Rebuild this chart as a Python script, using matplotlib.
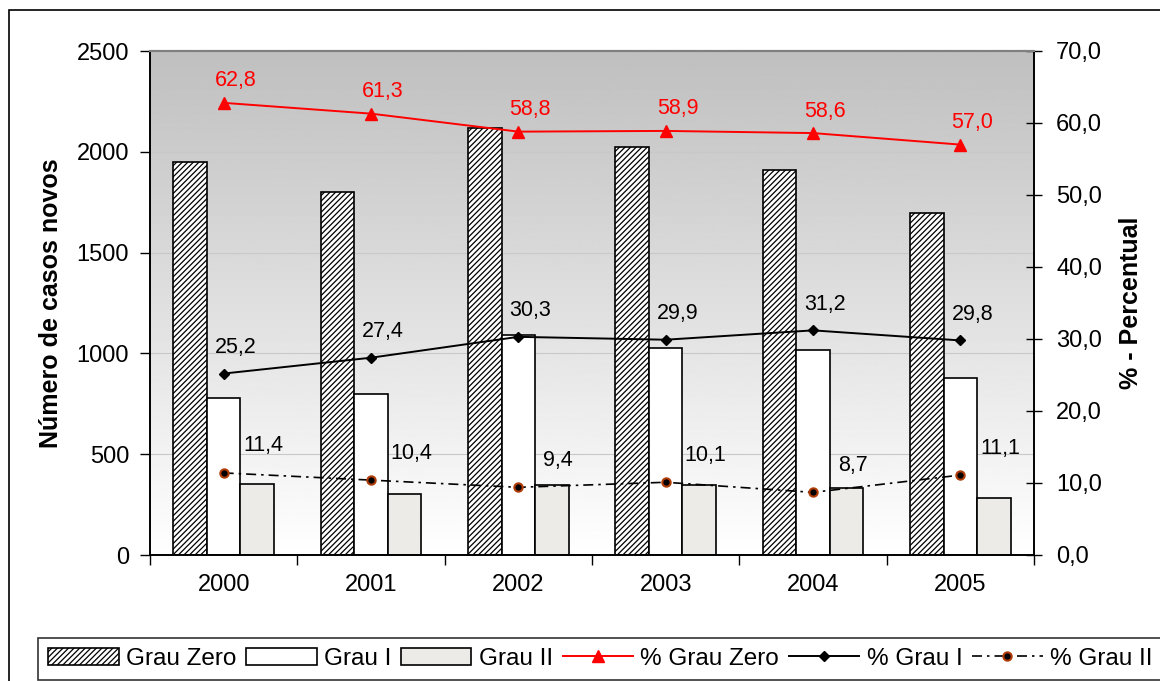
import matplotlib.pyplot as plt
import matplotlib.patches as mpatches
import numpy as np

plt.rcParams['font.family'] = ['Liberation Sans', 'DejaVu Sans']
plt.rcParams['hatch.linewidth'] = 0.9

anos = ['2000', '2001', '2002', '2003', '2004', '2005']
grau_zero = [1950, 1800, 2120, 2025, 1910, 1695]
grau_1 = [780, 800, 1090, 1025, 1015, 880]
grau_2 = [350, 305, 345, 345, 330, 285]
pct_zero = [62.8, 61.3, 58.8, 58.9, 58.6, 57.0]
pct_1 = [25.2, 27.4, 30.3, 29.9, 31.2, 29.8]
pct_2 = [11.4, 10.4, 9.4, 10.1, 8.7, 11.1]

def virgula(v):
    return f'{v:.1f}'.replace('.', ',')

fig = plt.figure(figsize=(11.6, 6.81), dpi=100)
ax = fig.add_axes([150 / 1160, 1 - 555 / 681, 884 / 1160, 504 / 681])
ax2 = ax.twinx()

# fundo com degrade cinza -> branco
grad = np.linspace(0.75, 1.0, 256).reshape(-1, 1)
ax.imshow(grad, cmap='gray', vmin=0, vmax=1, aspect='auto',
          extent=(0, 1, 0, 1), transform=ax.transAxes, zorder=0,
          origin='upper')

x = np.arange(len(anos))
w = 0.228
ax.bar(x - w, grau_zero, w, facecolor='white', edgecolor='black',
       hatch='//////', linewidth=1.2, zorder=2, label='Grau Zero')
ax.bar(x, grau_1, w, facecolor='white', edgecolor='black',
       linewidth=1.2, zorder=2, label='Grau I')
ax.bar(x + w, grau_2, w, facecolor='#ecebe7', edgecolor='black',
       linewidth=1.2, zorder=2, label='Grau II')

ax.set_xlim(-0.5, len(anos) - 0.5)
ax.set_ylim(0, 2500)
ax.set_yticks(range(0, 2501, 500))
ax.yaxis.grid(True, color='#c8c8c8', linewidth=0.8, zorder=1)
ax.set_axisbelow(True)
ax.set_xticks(np.arange(-0.5, len(anos), 1))
ax.set_xticklabels([])
ax.set_xticks(x, minor=True)
ax.set_xticklabels(anos, minor=True)
ax.tick_params(axis='x', which='major', direction='out', length=7, width=1)
ax.tick_params(axis='x', which='minor', length=0, pad=14, labelsize=17)
ax.tick_params(axis='y', direction='out', length=7, width=1, labelsize=17, pad=8)
ax.set_ylabel('Número de casos novos', fontsize=18, fontweight='bold', labelpad=10)

ax2.plot(x, pct_zero, color='red', marker='^', markersize=8, linewidth=1.4,
         label='% Grau Zero', zorder=5)
ax2.plot(x, pct_1, color='black', marker='D', markersize=5, linewidth=1.4,
         label='% Grau I', zorder=5)
ax2.plot(x, pct_2, color='black', linestyle=(0, (6, 3, 1.5, 3)), marker='o',
         markersize=6, markerfacecolor='black', markeredgecolor='#b03c08',
         markeredgewidth=1.5, linewidth=1.2, label='% Grau II', zorder=5)

for i in x:
    ax2.annotate(virgula(pct_zero[i]), (i, pct_zero[i]), xytext=(12, 22),
                 textcoords='offset pixels', ha='center', va='center',
                 color='red', fontsize=15.5)
    ax2.annotate(virgula(pct_1[i]), (i, pct_1[i]), xytext=(12, 26),
                 textcoords='offset pixels', ha='center', va='center',
                 color='black', fontsize=15.5)
    ax2.annotate(virgula(pct_2[i]), (i, pct_2[i]), xytext=(40, 27),
                 textcoords='offset pixels', ha='center', va='center',
                 color='black', fontsize=15.5)

ax2.set_ylim(0, 70)
ax2.set_yticks(range(0, 71, 10))
ax2.set_yticklabels([virgula(v) for v in range(0, 71, 10)])
ax2.tick_params(axis='y', direction='inout', length=12, width=1, labelsize=17, pad=10)
ax2.set_ylabel('% - Percentual', fontsize=18, fontweight='bold', labelpad=12)

for a in (ax, ax2):
    a.spines['top'].set_color('#808080')
    a.spines['top'].set_linewidth(1.5)
    for s in ('left', 'right', 'bottom'):
        a.spines[s].set_linewidth(1.2)

# moldura externa do grafico
fig.patches.append(mpatches.Rectangle((9 / 1160, -0.05), 1.1, 1 - 10 / 681 + 0.05,
                                      transform=fig.transFigure, fill=False,
                                      edgecolor='black', linewidth=1.2))

h1, l1 = ax.get_legend_handles_labels()
h2, l2 = ax2.get_legend_handles_labels()
leg = fig.legend(h1 + h2, l1 + l2, loc='lower left', ncol=6,
                 bbox_to_anchor=(38 / 1160, 1 / 681), fontsize=17.5,
                 frameon=True, fancybox=False, edgecolor='black',
                 handlelength=2.9, handletextpad=0.3, columnspacing=0.4,
                 borderpad=0.42, borderaxespad=0)
leg.get_frame().set_linewidth(1.2)

fig.savefig('out.png', dpi=100)
